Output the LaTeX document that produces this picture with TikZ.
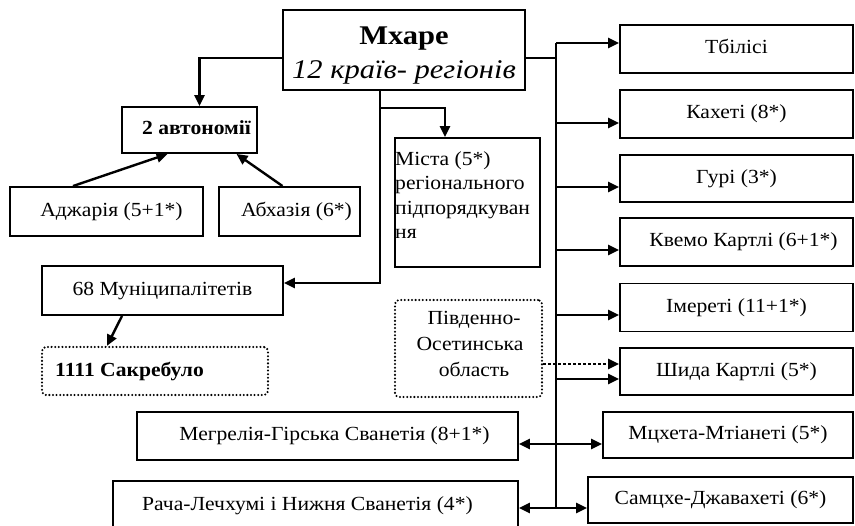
\documentclass[tikz,border=0pt]{standalone}
\usepackage{fontspec}
\setmainfont[FakeStretch=1.08]{Liberation Serif}
\newfontfamily\headfont[FakeStretch=1.13]{Liberation Serif}
\usetikzlibrary{arrows.meta}

\begin{document}
\begin{tikzpicture}[x=1pt,y=-1pt,
  box/.style={draw, line width=1.9pt, inner sep=0pt, align=center,
    font=\fontsize{20}{24}\selectfont, text height=14pt, text depth=4pt},
  dotbox/.style={draw, line width=2.3pt, line cap=round, rounded corners=4pt,
    dash pattern=on 0pt off 3.6pt, inner sep=0pt},
  link/.style={line width=2.4pt, -{Triangle[length=11pt,width=10pt]}},
  dlink/.style={line width=2.4pt, {Triangle[length=11pt,width=10pt]}-{Triangle[length=11pt,width=10pt]}},
  dotlink/.style={line width=2.4pt, dash pattern=on 3pt off 2pt,
    -{Triangle[length=11pt,width=10pt]}},
  plain/.style={line width=2.4pt},
  ]
\useasboundingbox (0,0) rectangle (855,526);
\clip (0,0) rectangle (855,526);

% head box
\node[draw, line width=1.9pt, minimum width=242pt, minimum height=80pt] (mxare) at (404,50) {};
\node[anchor=base, font=\headfont\fontsize{27}{30}\selectfont\bfseries] (mxt1) at (404,45) {Мхаре};
\node[anchor=base, font=\headfont\fontsize{27}{30}\selectfont\itshape] (mxt2) at (404,79) {12 країв- регіонів};

% autonomies
\node[box, font=\fontsize{20}{24}\selectfont\bfseries, minimum width=135pt, minimum height=46pt] (avt) at (189.5,130) {\hspace{14pt}2 автономії};
\node[box, minimum width=193pt, minimum height=49pt] (adzh) at (106.5,211.5) {\hspace{10pt}Аджарія (5+1*)};
\node[box, minimum width=141pt, minimum height=49pt] (abkh) at (289.5,211.5) {\hspace{14pt}Абхазія (6*)};

% cities of regional subordination
\node[draw, line width=1.9pt, minimum width=145pt, minimum height=129pt] (mista) at (467.5,202.5) {};
\node[anchor=north west, inner sep=0pt, align=left, font=\fontsize{20}{24.5}\selectfont] (mistat) at (395,151)
  {Міста (5*)\\регіонального\\підпорядкуван\\ня};

% municipalities
\node[box, minimum width=241pt, minimum height=49pt] (munic) at (162.5,290.5) {68 Муніципалітетів};
\node[dotbox, minimum width=226pt, minimum height=48pt] (sakr) at (155,371) {};
\node[anchor=base west, inner sep=0pt, font=\fontsize{20}{24}\selectfont\bfseries] (sakrt) at (55,377) {1111 Сакребуло};

% South Ossetia
\node[dotbox, minimum width=147pt, minimum height=97pt] (osetia) at (468.5,348.5) {};
\node[anchor=north, inner sep=0pt, align=center, font=\fontsize{20}{26}\selectfont] (osetiat) at (470,311)
  {\hspace{8pt}Південно-\\Осетинська\\\hspace{8pt}область};

% regions on the right
\node[box, minimum width=233pt, minimum height=48pt] (tbilisi) at (736.5,49) {Тбілісі};
\node[box, minimum width=233pt, minimum height=48pt] (kakheti) at (736.5,114) {Кахеті (8*)};
\node[box, minimum width=233pt, minimum height=47pt] (guri) at (736.5,178.5) {Гурі (3*)};
\node[box, minimum width=233pt, minimum height=48pt] (kvemo) at (736.5,242) {\hspace{14pt}Квемо Картлі (6+1*)};
\node[box, minimum width=233pt, minimum height=48pt] (imereti) at (736.5,307.5) {Імереті (11+1*)};
\node[box, minimum width=233pt, minimum height=47pt] (shida) at (736.5,371.5) {Шида Картлі (5*)};
\node[box, minimum width=250pt, minimum height=46pt] (mtskheta) at (728,435) {Мцхета-Мтіанеті (5*)};
\node[box, minimum width=265pt, minimum height=46pt] (samtskhe) at (720.5,500) {Самцхе-Джавахеті (6*)};
\node[box, minimum width=381pt, minimum height=48pt] (megrelia) at (327.5,436) {\hspace{14pt}Мегрелія-Гірська Сванетія (8+1*)};
\node[box, minimum width=405pt, minimum height=50pt] (racha) at (315.5,506) {Рача-Лечхумі і Нижня Сванетія (4*)\hspace{16pt}};

% distribution bus on the right
\coordinate (bus) at (556,0);
\coordinate (bustop) at (556,43);
\coordinate (busbot) at (556,508);
\draw[plain] (bustop) -- (busbot);
\draw[plain] ([yshift=-8pt]mxare.east) -- ([yshift=-8pt]mxare.east -| bus);

\draw[link] ([yshift=6pt]tbilisi.west -| bus) -- ([yshift=6pt]tbilisi.west);
\draw[link] ([yshift=-9pt]kakheti.west -| bus) -- ([yshift=-9pt]kakheti.west);
\draw[link] ([yshift=-8.5pt]guri.west -| bus) -- ([yshift=-8.5pt]guri.west);
\draw[link] ([yshift=-8pt]kvemo.west -| bus) -- ([yshift=-8pt]kvemo.west);
\draw[link] ([yshift=-7.5pt]imereti.west -| bus) -- ([yshift=-7.5pt]imereti.west);
\draw[link] ([yshift=-7.5pt]shida.west -| bus) -- ([yshift=-7.5pt]shida.west);
\draw[dotlink] ([yshift=-15.5pt]osetia.east) -- ([yshift=-15.5pt]osetia.east -| shida.west);
\draw[dlink] ([yshift=-8pt]megrelia.east) -- ([yshift=-8pt]megrelia.east -| mtskheta.west);
\draw[dlink] ([yshift=-2pt]racha.east) -- ([yshift=-2pt]racha.east -| samtskhe.west);

% left branches
\draw[link] ([yshift=-8pt]mxare.west) -| ([xshift=10pt]avt.north);
\draw[link] ([xshift=-33.5pt]adzh.north) -- ([xshift=-22pt]avt.south);
\draw[link] ([xshift=-7pt]abkh.north) -- ([xshift=47pt]avt.south);

% central trunk
\coordinate (split) at ([xshift=-24pt,yshift=-17pt]mxare.south);
\draw[link] ([xshift=-24pt]mxare.south) |- ([yshift=7.5pt]munic.east);
\draw[link] (split) -| ([xshift=-22.5pt]mista.north);
\draw[link] ([xshift=-40.5pt]munic.south) -- ([xshift=-48pt]sakr.north);
\end{tikzpicture}
\end{document}
